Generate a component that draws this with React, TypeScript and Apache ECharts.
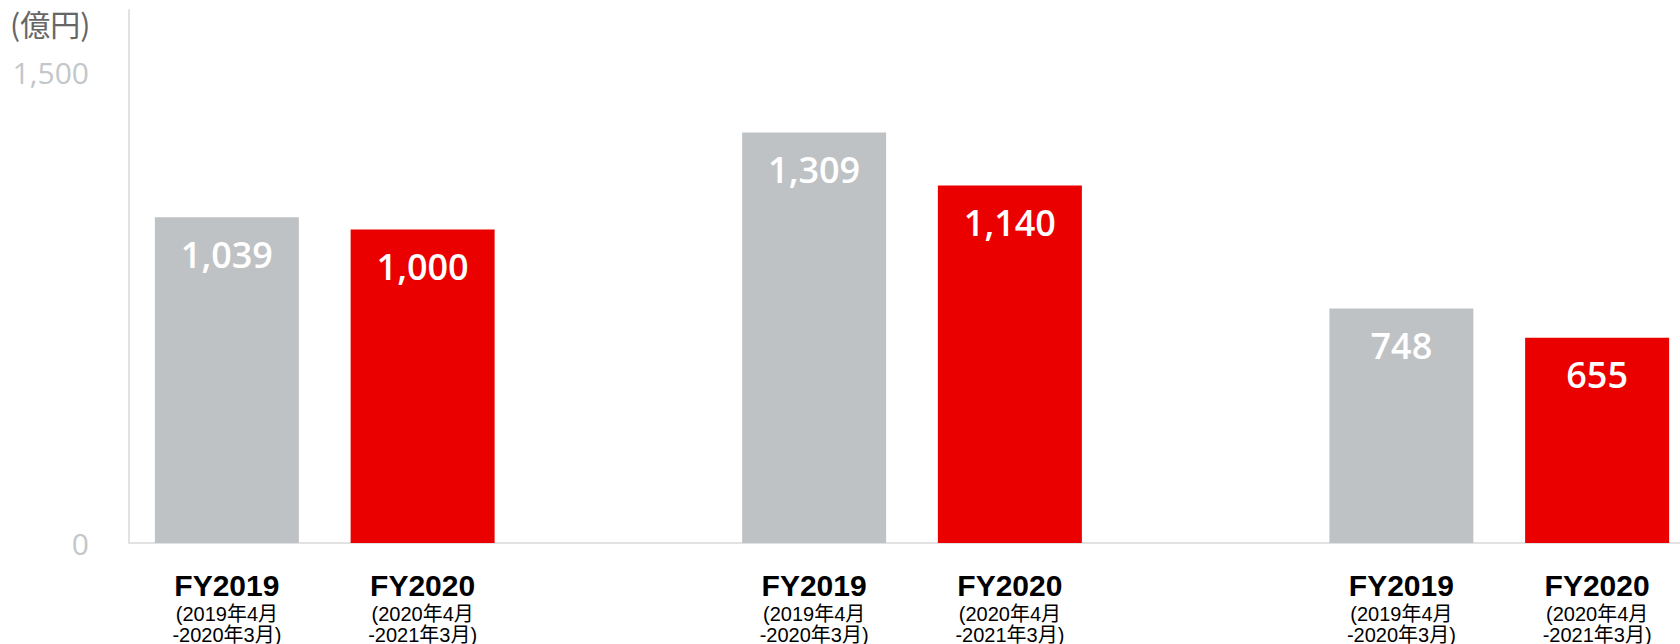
import React, { useEffect, useRef } from "react";
import * as echarts from "echarts";

// ---- data ----
const periodNames = ["FY2019", "FY2020"];
const periodRanges = [
  ["(2019年4月", "-2020年3月)"],
  ["(2020年4月", "-2021年3月)"],
];
const fy2019Values = [1039, 1309, 748];
const fy2020Values = [1000, 1140, 655];
const yTickValues = [0, 1500];
const unitLabel = "(億円)";

const GRAY = "#bfc2c5";
const RED = "#eb0000";

// category slots: [FY2019, FY2020, gap, FY2019, FY2020, gap, FY2019, FY2020]
const slotPeriod: (number | null)[] = [];
const categories: string[] = [];
const series2019: (number | string)[] = [];
const series2020: (number | string)[] = [];
fy2019Values.forEach((v, g) => {
  categories.push(`${periodNames[0]}-${g}`);
  slotPeriod.push(0);
  series2019.push(v);
  series2020.push("-");
  categories.push(`${periodNames[1]}-${g}`);
  slotPeriod.push(1);
  series2019.push("-");
  series2020.push(fy2020Values[g]);
  if (g < fy2019Values.length - 1) {
    categories.push(`gap-${g}`);
    slotPeriod.push(null);
    series2019.push("-");
    series2020.push("-");
  }
});

const fmt = (v: number) => v.toLocaleString("en-US");

export default function App() {
  const ref = useRef<HTMLDivElement>(null);
  useEffect(() => {
    if (!ref.current) return;
    const chart = echarts.init(ref.current, null, { renderer: "svg" });
    const valueLabel = {
      show: true,
      position: "insideTop",
      distance: 19,
      color: "#ffffff",
      fontSize: 36,
      lineHeight: 36,
      fontWeight: 600,
      fontFamily: "'Open Sans', sans-serif",
      formatter: (p: any) => fmt(p.value),
    };
    chart.setOption({
      animation: false,
      backgroundColor: "#ffffff",
      title: {
        text: unitLabel,
        left: 10,
        top: 8,
        padding: 0,
        textStyle: {
          fontSize: 30,
          fontWeight: "normal",
          color: "#666666",
          fontFamily: "'Noto Sans CJK JP', sans-serif",
        },
      },
      grid: {
        left: 129,
        width: 1566,
        top: 10,
        bottom: 101,
        containLabel: false,
        outerBoundsMode: "none",
      },
      xAxis: {
        type: "category",
        data: categories,
        axisLine: { show: true, lineStyle: { color: "#e2e2e2", width: 2 } },
        axisTick: { show: false },
        axisLabel: {
          interval: 0,
          margin: 24,
          formatter: (_: string, idx: number) => {
            const p = slotPeriod[idx];
            if (p === null || p === undefined) return "";
            return `{a|${periodNames[p]}}\n{b|${periodRanges[p][0]}}\n{b|${periodRanges[p][1]}}`;
          },
          rich: {
            a: {
              fontSize: 30,
              lineHeight: 36,
              fontWeight: "bold",
              color: "#000000",
              fontFamily: "'Liberation Sans', Arial, sans-serif",
            },
            b: {
              fontSize: 20,
              lineHeight: 21,
              color: "#000000",
              fontFamily: "'Liberation Sans', 'Noto Sans CJK JP', sans-serif",
            },
          },
        },
      },
      yAxis: {
        type: "value",
        min: 0,
        max: 1700,
        interval: 1500,
        axisLine: { show: true, lineStyle: { color: "#e2e2e2", width: 2 } },
        axisTick: { show: false },
        splitLine: { show: false },
        axisLabel: {
          margin: 40,
          fontSize: 30,
          color: "#c3c7ca",
          fontFamily: "'Open Sans', sans-serif",
          formatter: (v: number) => (yTickValues.includes(v) ? fmt(v) : ""),
        },
      },
      series: [
        {
          name: periodNames[0],
          type: "bar",
          data: series2019,
          barWidth: 144,
          barGap: "-100%",
          itemStyle: { color: GRAY },
          label: valueLabel,
        },
        {
          name: periodNames[1],
          type: "bar",
          data: series2020,
          barWidth: 144,
          barGap: "-100%",
          itemStyle: { color: RED },
          label: valueLabel,
        },
      ],
    });
    return () => chart.dispose();
  }, []);
  return (
    <div
      ref={ref}
      style={{ position: "fixed", left: 0, top: 0, width: 1680, height: 644 }}
    />
  );
}
